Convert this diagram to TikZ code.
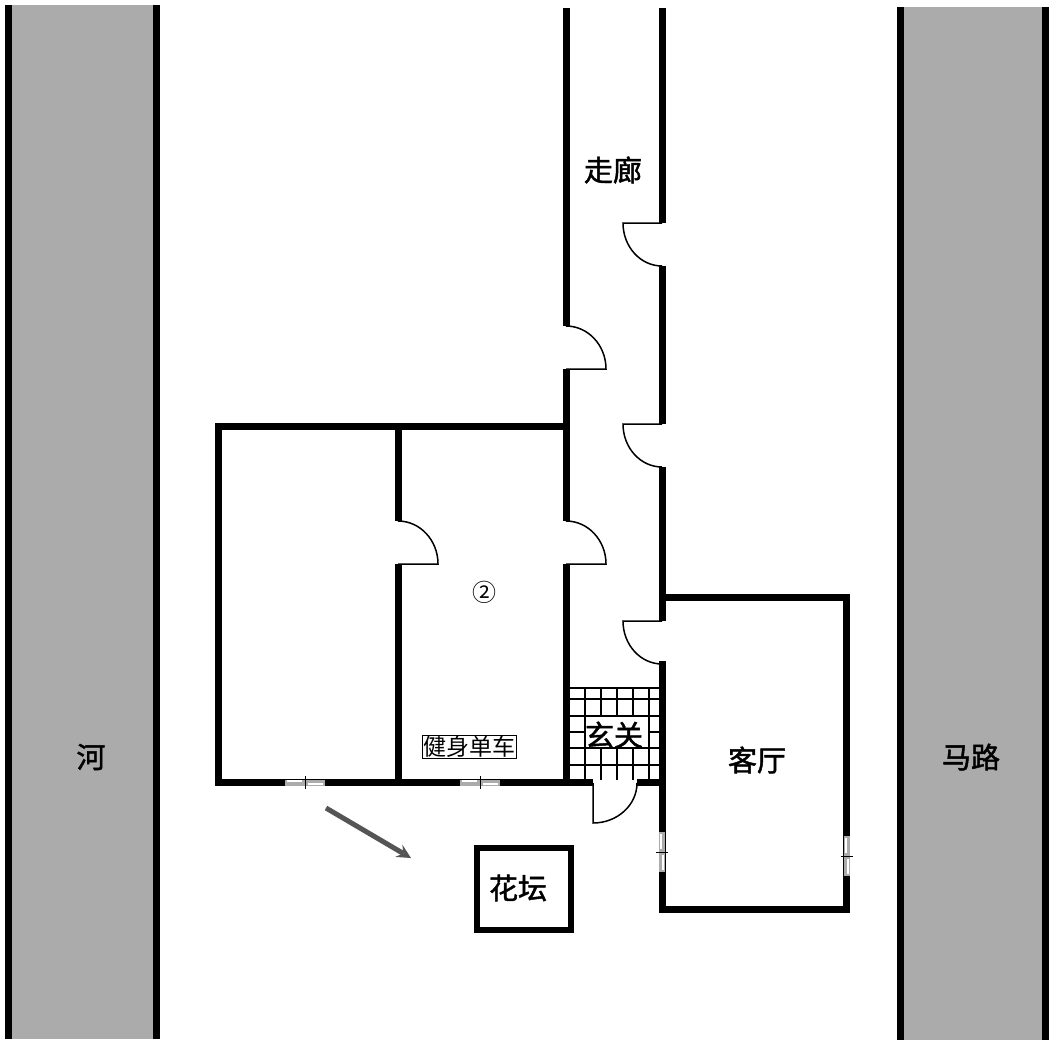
\documentclass[tikz,border=0pt]{standalone}
\usepackage{fontspec}
\setmainfont{Noto Sans CJK SC}
\newfontfamily\labelfont{Noto Sans CJK SC}[FakeBold=1.6]
\definecolor{stripgray}{HTML}{ABABAB}
\definecolor{arrowgray}{HTML}{555555}
\begin{document}
\begin{tikzpicture}[x=1pt,y=-1pt,
        wall/.style = {line width=7pt},
        door/.style = {line width=1.5pt},
        tile/.style = {line width=1.5pt},
        pane/.style = {fill=stripgray,draw=none},
        roomlabel/.style = {font=\labelfont\fontsize{29}{29}\selectfont,inner sep=2pt}]
    \fill[white] (0,0) rectangle (1057,1046);
    \useasboundingbox (0,0) rectangle (1057,1046);

    % river and road
    \fill[stripgray] (8,5) rectangle (156,1039);
    \fill[stripgray] (900,7) rectangle (1045,1040);
    \draw[wall] (8,5) -- (8,1039);
    \draw[wall] (156,5) -- (156,1039);
    \draw[wall] (900,7) -- (900,1040);
    \draw[wall] (1045,7) -- (1045,1040);

    % entrance tiles
    \foreach \x in {585,601,617,633,649}
        \draw[tile] (\x,688) -- (\x,780);
    \foreach \y in {688,699,716,732,748,765}
        \draw[tile] (570,\y) -- (659,\y);
    \fill[white] (586,717) rectangle (648,747.2);

    % corridor
    \draw[wall] (566,8) -- (566,326);
    \draw[wall] (566,369) -- (566,521);
    \draw[wall] (566,564) -- (566,782);
    \draw[wall] (662,8) -- (662,223);
    \draw[wall] (662,266) -- (662,424);
    \draw[wall] (662,467) -- (662,621);
    \draw[wall] (662,661) -- (662,832);

    % rooms
    \draw[wall] (566,426) -- (218.5,426) -- (218.5,782.5) -- (593,782.5);
    \draw[wall] (637,782.5) -- (662,782.5);
    \draw[wall] (398,426) -- (398,521);
    \draw[wall] (398,564) -- (398,782);

    % living room
    \draw[wall] (658.5,597.5) -- (846.5,597.5) -- (846.5,909.5) -- (662,909.5) -- (662,832);

    % flower bed
    \draw[line width=6.5pt] (477,848) rectangle (571,930);

    % doors
    \foreach \y in {223,424,621}
        \draw[door] (662,\y) -- (623,\y) arc[start angle=180,end angle=270,x radius=39pt,y radius=43pt];
    \foreach \x/\y in {566/326,566/521,398/521}
        \draw[door] (\x,\y) arc[start angle=90,end angle=0,x radius=40pt,y radius=43pt] -- (\x,\y+43);
    \draw[door] (593,783) -- (593,823) arc[start angle=270,end angle=360,x radius=44pt,y radius=40pt];

    % windows
    \foreach \x in {305,480} {
        \fill[pane] (\x-20,779.5) rectangle (\x+20,785.5);
        \fill[white] (\x-18,780) rectangle (\x-3,782);
        \fill[white] (\x+3,783) rectangle (\x+18,785);
        \draw[line width=.7pt] (\x,776) -- (\x,789);
    }
    \foreach \x/\y in {662/852,846.5/856} {
        \fill[pane] (\x-3,\y-20) rectangle (\x+3,\y+20);
        \fill[white] (\x-2,\y-18) rectangle (\x,\y-3);
        \fill[white] (\x,\y+3) rectangle (\x+2,\y+18);
        \draw[line width=.7pt] (\x-6,\y) -- (\x+6,\y);
    }

    % arrow
    \coordinate (arrowstart) at (326,808);
    \coordinate (arrowend) at (411,858);
    \draw[arrowgray,line width=5pt,-stealth] (arrowstart) -- (arrowend);

    % labels
    \node[roomlabel] (river) at (91,757) {河};
    \node[roomlabel] (road) at (971,757) {马路};
    \node[roomlabel] (hall) at (613,170) {走廊};
    \node[roomlabel] (entry) at (614,735) {玄关};
    \node[roomlabel] (living) at (757,760) {客厅};
    \node[roomlabel] (bed) at (518,888) {花坛};
    \node[font=\fontsize{24}{24}\selectfont,inner sep=0pt] (mark) at (484,592) {②};
    \node[draw,line width=.8pt,font=\fontsize{23}{23}\selectfont,minimum width=94pt,minimum height=23pt,inner sep=0pt] (bike) at (469,746.5) {健身单车};
\end{tikzpicture}
\end{document}
